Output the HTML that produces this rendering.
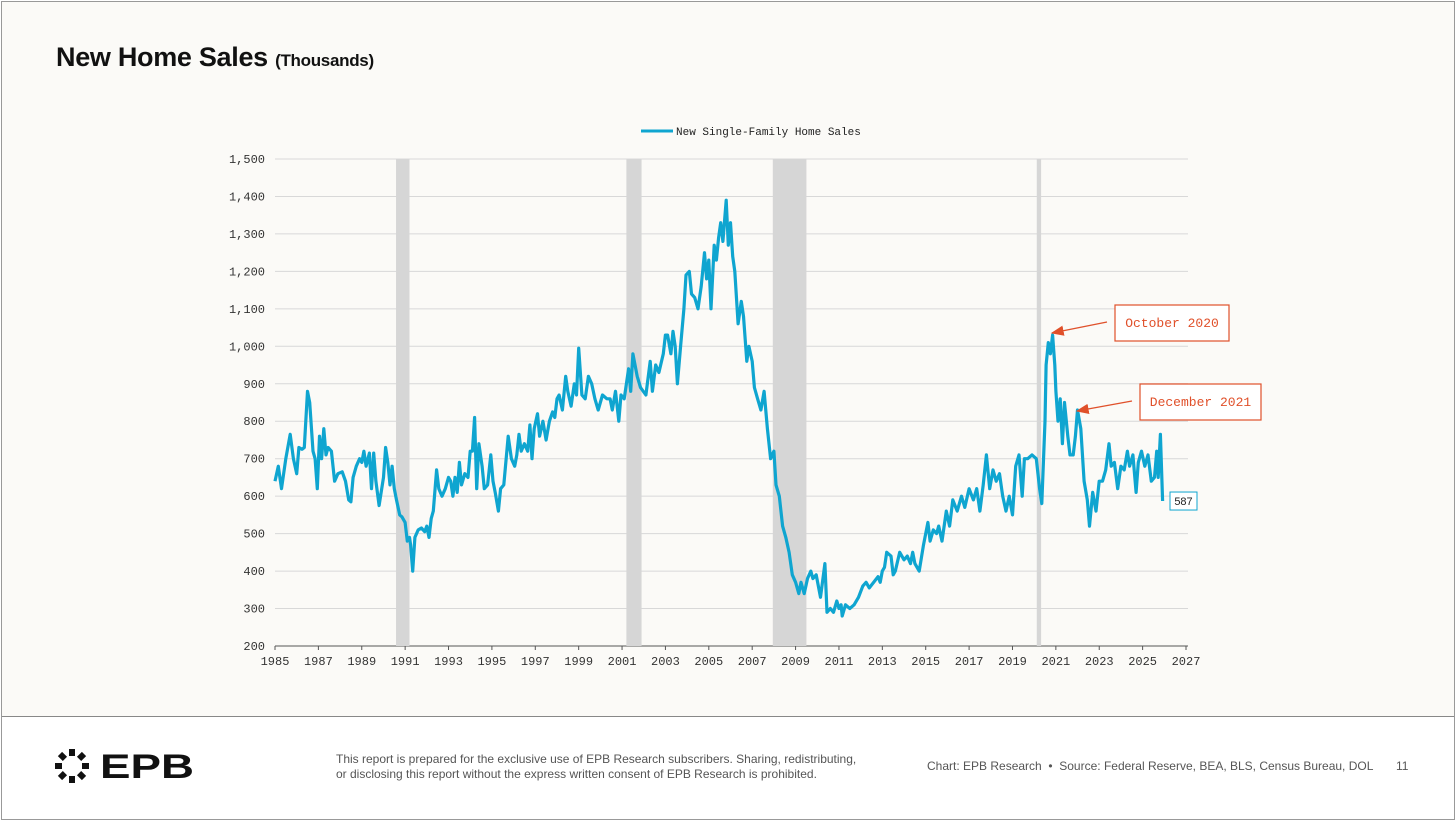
<!DOCTYPE html>
<html><head><meta charset="utf-8"><style>
html,body{margin:0;padding:0;}
body{width:1456px;height:821px;background:#fff;font-family:"Liberation Sans",sans-serif;position:relative;overflow:hidden;}
.frame{position:absolute;left:1px;top:1px;width:1452px;height:817px;border:1px solid #999;background:#fbfaf7;}
.foot{position:absolute;left:2px;top:716px;width:1452px;height:102px;background:#fff;border-top:1px solid #888;}
h1{position:absolute;left:56px;top:42px;margin:0;font-size:27px;font-weight:bold;color:#111;letter-spacing:-0.3px}
h1 small{font-size:17px}
.t{position:absolute;font-size:12px;color:#444;}
</style></head><body>
<div class="frame"></div>
<h1>New Home Sales <small>(Thousands)</small></h1>
<svg id="chart" width="1456" height="821" style="position:absolute;left:0;top:0"></svg>
<div class="foot">
 <svg style="position:absolute;left:52px;top:31px" width="150" height="36">
  <g fill="#111" transform="translate(18,18)">
   <rect x="-3" y="-17" width="6" height="7" transform="rotate(0)"/><rect x="-3" y="-17" width="6" height="7" transform="rotate(45)"/><rect x="-3" y="-17" width="6" height="7" transform="rotate(90)"/><rect x="-3" y="-17" width="6" height="7" transform="rotate(135)"/><rect x="-3" y="-17" width="6" height="7" transform="rotate(180)"/><rect x="-3" y="-17" width="6" height="7" transform="rotate(225)"/><rect x="-3" y="-17" width="6" height="7" transform="rotate(270)"/><rect x="-3" y="-17" width="6" height="7" transform="rotate(315)"/>
  </g>
  <text x="46" y="30" font-family="Liberation Sans" font-weight="bold" font-size="34" fill="#111" textLength="94" lengthAdjust="spacingAndGlyphs">EPB</text>
 </svg>
 <div class="t" style="left:334px;top:35px;width:560px;line-height:15px;font-size:12px;color:#555">This report is prepared for the exclusive use of EPB Research subscribers. Sharing, redistributing,<br>or disclosing this report without the express written consent of EPB Research is prohibited.</div>
 <div class="t" style="left:925px;top:42px;color:#555">Chart: EPB Research &nbsp;•&nbsp; Source: Federal Reserve, BEA, BLS, Census Bureau, DOL</div>
 <div class="t" style="left:1394px;top:42px;color:#555">11</div>
</div>
<script>
const years=[1985,1985.15,1985.3,1985.5,1985.7,1985.85,1986,1986.1,1986.25,1986.35,1986.5,1986.6,1986.75,1986.85,1986.95,1987.05,1987.15,1987.25,1987.35,1987.45,1987.6,1987.75,1987.9,1988.1,1988.25,1988.4,1988.5,1988.6,1988.75,1988.9,1989,1989.1,1989.2,1989.35,1989.45,1989.55,1989.65,1989.8,1990,1990.1,1990.2,1990.3,1990.4,1990.5,1990.6,1990.75,1990.85,1991,1991.1,1991.2,1991.25,1991.35,1991.45,1991.6,1991.75,1991.9,1992,1992.1,1992.2,1992.3,1992.45,1992.55,1992.7,1992.85,1993,1993.1,1993.2,1993.3,1993.4,1993.5,1993.6,1993.75,1993.9,1994,1994.1,1994.2,1994.3,1994.4,1994.55,1994.65,1994.8,1994.95,1995.05,1995.15,1995.3,1995.4,1995.55,1995.75,1995.9,1996.05,1996.15,1996.25,1996.35,1996.5,1996.65,1996.75,1996.85,1996.95,1997.1,1997.2,1997.35,1997.5,1997.65,1997.8,1997.9,1998,1998.1,1998.25,1998.4,1998.5,1998.65,1998.8,1998.9,1999,1999.15,1999.3,1999.45,1999.6,1999.75,1999.9,2000.1,2000.3,2000.45,2000.55,2000.7,2000.85,2000.95,2001.1,2001.3,2001.4,2001.5,2001.7,2001.85,2002.1,2002.3,2002.4,2002.55,2002.7,2002.9,2003,2003.1,2003.25,2003.35,2003.45,2003.55,2003.7,2003.85,2003.95,2004.1,2004.2,2004.35,2004.5,2004.65,2004.8,2004.9,2005,2005.1,2005.25,2005.35,2005.45,2005.55,2005.65,2005.8,2005.9,2006,2006.1,2006.2,2006.35,2006.5,2006.6,2006.75,2006.85,2007,2007.1,2007.25,2007.4,2007.55,2007.7,2007.85,2008,2008.1,2008.25,2008.4,2008.55,2008.7,2008.85,2009,2009.15,2009.25,2009.4,2009.55,2009.7,2009.8,2009.95,2010.15,2010.35,2010.45,2010.6,2010.75,2010.9,2011,2011.1,2011.15,2011.3,2011.5,2011.7,2011.9,2012.1,2012.25,2012.4,2012.6,2012.8,2012.9,2013,2013.1,2013.2,2013.4,2013.5,2013.6,2013.8,2014,2014.15,2014.3,2014.4,2014.5,2014.7,2014.9,2015.1,2015.2,2015.35,2015.5,2015.6,2015.75,2015.95,2016.1,2016.25,2016.45,2016.65,2016.8,2017,2017.2,2017.35,2017.5,2017.65,2017.8,2017.95,2018.1,2018.25,2018.4,2018.55,2018.7,2018.85,2019,2019.15,2019.3,2019.45,2019.55,2019.7,2019.9,2020.1,2020.25,2020.35,2020.5,2020.55,2020.65,2020.75,2020.85,2020.95,2021,2021.1,2021.2,2021.3,2021.4,2021.55,2021.65,2021.8,2021.9,2022,2022.15,2022.3,2022.45,2022.55,2022.7,2022.85,2023,2023.15,2023.3,2023.45,2023.55,2023.7,2023.85,2024,2024.15,2024.3,2024.4,2024.55,2024.7,2024.8,2024.95,2025.1,2025.25,2025.4,2025.55,2025.65,2025.72,2025.82,2025.92];
const sales=[640,680,620,700,765,700,660,730,725,730,880,850,720,700,620,760,700,780,710,730,720,640,660,665,640,590,585,650,680,700,690,720,680,715,620,715,640,575,650,730,690,630,680,620,590,550,545,530,480,490,470,400,490,510,515,505,520,490,540,560,670,620,600,620,650,640,600,650,610,690,630,660,650,720,720,810,620,740,680,620,630,710,640,610,560,620,630,760,700,680,710,765,720,740,720,790,700,780,820,760,800,750,800,825,810,860,870,830,920,880,840,900,870,995,870,860,920,900,860,830,870,860,860,830,880,800,870,860,940,880,980,920,890,870,960,880,950,930,980,1030,1030,980,1040,1000,900,1000,1100,1190,1200,1140,1130,1100,1160,1250,1180,1230,1100,1270,1230,1290,1330,1280,1390,1270,1330,1240,1200,1060,1120,1080,960,1000,960,890,860,830,880,780,700,720,630,600,520,490,450,390,370,340,370,340,380,400,380,390,330,420,290,300,290,320,300,310,280,310,300,310,330,360,370,355,370,385,370,400,410,450,440,390,400,450,430,440,420,450,420,400,470,530,480,510,500,520,480,560,520,590,560,600,570,620,590,620,560,630,710,620,670,640,660,600,560,600,550,680,710,600,700,700,710,700,620,580,800,950,1010,980,1030,950,880,800,860,740,850,760,710,710,760,830,780,640,590,520,610,560,640,640,670,740,680,690,620,680,670,720,680,710,610,690,720,680,710,640,650,720,650,765,587];
const recessions=[[1990.58,1991.2],[2001.2,2001.9],[2007.95,2009.5],[2020.12,2020.32]];
const yTicks=[200,300,400,500,600,700,800,900,1000,1100,1200,1300,1400,1500];
const xTicks=[1985,1987,1989,1991,1993,1995,1997,1999,2001,2003,2005,2007,2009,2011,2013,2015,2017,2019,2021,2023,2025,2027];
const NS='http://www.w3.org/2000/svg';
const svg=document.getElementById('chart');
const X=v=>275+(v-1985)*(1186-275)/42;
const Y=v=>646-(v-200)*(646-159)/1300;
function mk(t,a,p){const e=document.createElementNS(NS,t);for(const k in a)e.setAttribute(k,a[k]);(p||svg).appendChild(e);return e;}
yTicks.forEach(v=>{
 const g=mk('line',{x1:275,x2:1188,y1:Y(v),y2:Y(v),stroke:v===200?'#555':'#d8d8d8','stroke-width':1});
 
 
 const t=mk('text',{x:265,y:Y(v)+4,'text-anchor':'end','font-family':'Liberation Mono, monospace','font-size':12,fill:'#333'});
 t.textContent=v.toLocaleString('en-US');
 
 
});
recessions.forEach(r=>{
 const b=mk('rect',{x:X(r[0]),y:159,width:X(r[1])-X(r[0]),height:487,fill:'#d6d6d6'});
 
 
});
xTicks.forEach(v=>{
 const tk=mk('line',{x1:X(v),x2:X(v),y1:646,y2:650,stroke:'#555'});
 
 
 const t=mk('text',{x:X(v),y:665,'text-anchor':'middle','font-family':'Liberation Mono, monospace','font-size':12,fill:'#333'});
 t.textContent=v;
 
 
});
const d=years.map((y,i)=>(i?'L':'M')+X(y).toFixed(1)+' '+Y(sales[i]).toFixed(1)).join(' ');
const line=mk('path',{d:d,fill:'none',stroke:'#0fa5d0','stroke-width':3.2,'stroke-linejoin':'round'});


const last=sales[sales.length-1];
const lb=mk('rect',{x:1170,y:Y(last)-9,width:27,height:18,fill:'#fff',stroke:'#0fa5d0','stroke-width':1});


const lt=mk('text',{x:1183.5,y:Y(last)+4,'text-anchor':'middle','font-family':'Liberation Sans','font-size':11,fill:'#222'});
lt.textContent=last;


const ll=mk('line',{x1:641,x2:673,y1:131,y2:131,stroke:'#0fa5d0','stroke-width':3});


const lg=mk('text',{x:676,y:135,'font-family':'Liberation Mono, monospace','font-size':11,fill:'#222'});
lg.textContent='New Single-Family Home Sales';


mk('defs',{}).innerHTML='<marker id="ar" markerWidth="10" markerHeight="8" refX="9" refY="4" orient="auto"><path d="M0 0 L10 4 L0 8 z" fill="#e0502a"/></marker>';
[[1115,305,114,'October 2020',1107,322,1052,333],[1140,384,121,'December 2021',1132,401,1077,411]].forEach(a=>{
 const r=mk('rect',{x:a[0],y:a[1],width:a[2],height:36,fill:'#fff',stroke:'#e0502a','stroke-width':1.2});
 
 
 const t=mk('text',{x:a[0]+a[2]/2,y:a[1]+22,'text-anchor':'middle','font-family':'Liberation Mono, monospace','font-size':13,fill:'#e0502a'});
 t.textContent=a[3];
 
 
 const l=mk('line',{x1:a[4],y1:a[5],x2:a[6],y2:a[7],stroke:'#e0502a','stroke-width':1.3,'marker-end':'url(#ar)'});
 
 
});
</script>
</body></html>
